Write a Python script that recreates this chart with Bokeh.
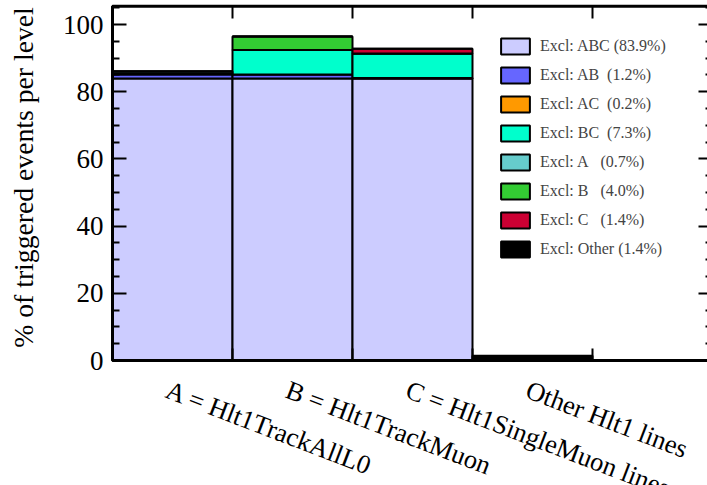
import math
from bokeh.plotting import figure
from bokeh.models import (Range1d, FixedTicker, LinearAxis, Label, Legend, LegendItem,
                          ColumnDataSource, BoxAnnotation, CustomLabelingPolicy)
from bokeh.embed import file_html
from bokeh.resources import INLINE

# ---------------- data ----------------
bin_labels = ["A = Hlt1TrackAllL0", "B = Hlt1TrackMuon", "C = Hlt1SingleMuon lines", "Other Hlt1 lines", ""]
bin_centers = [0.5, 1.5, 2.5, 3.5, 4.5]
bin_edges = [1, 2, 3, 4]

series = ["ABC", "AB", "AC", "BC", "A", "B", "C", "Other"]
ABC = [83.9, 83.9, 83.9, 0.0, 0.0]
AB = [1.2, 1.2, 0.0, 0.0, 0.0]
AC = [0.2, 0.0, 0.2, 0.0, 0.0]
BC = [0.0, 7.3, 7.3, 0.0, 0.0]
A = [0.7, 0.0, 0.0, 0.0, 0.0]
B = [0.0, 4.0, 0.0, 0.0, 0.0]
C = [0.0, 0.0, 1.4, 0.0, 0.0]
Other = [0.0, 0.0, 0.0, 1.4, 0.0]

NB = "\u00a0"
legend_labels = [
    "Excl: ABC (83.9%)",
    "Excl: AB" + NB + " (1.2%)",
    "Excl: AC" + NB + " (0.2%)",
    "Excl: BC" + NB + " (7.3%)",
    "Excl: A" + NB + NB + " (0.7%)",
    "Excl: B" + NB + NB + " (4.0%)",
    "Excl: C" + NB + NB + " (1.4%)",
    "Excl: Other (1.4%)",
]
colors = ["#ccccff", "#6666ff", "#ff9900", "#00ffcc", "#66cccc", "#33cc33", "#cc0033", "#000000"]

y_ticks = [0, 20, 40, 60, 80, 100]
y_minor = [v for v in range(0, 106, 5) if v % 20 != 0]
Y_TOP = 105.4
X_END = 5.0

y_title = "% of triggered events per level"
caption = "(a) HLT1 for B\u2070 \u2192 \u03bc\u207a\u03bc\u207b"

# ---------------- figure ----------------
FONT = "Liberation Serif"
W, H = 707, 485
LEFT_PX, BOTTOM_PX, PX_PER_BIN, PX_PER_UNIT = 112, 125, 120.0, 3.36
p = figure(width=W, height=H, output_backend="svg", toolbar_location=None,
           x_range=Range1d(-LEFT_PX / PX_PER_BIN, (W - LEFT_PX) / PX_PER_BIN),
           y_range=Range1d(-BOTTOM_PX / PX_PER_UNIT, (H - BOTTOM_PX) / PX_PER_UNIT),
           x_axis_location=None, y_axis_location=None, min_border=0)
p.grid.grid_line_color = None
p.outline_line_color = None
p.background_fill_color = "white"
p.border_fill_color = "white"

src = ColumnDataSource(dict(x=bin_centers, ABC=ABC, AB=AB, AC=AC, BC=BC, A=A, B=B, C=C, Other=Other))
renderers = p.vbar_stack(series, x="x", width=1.0, source=src, fill_color=colors,
                         line_color="black", line_width=2)

# frame
p.add_layout(BoxAnnotation(left=0, right=X_END, bottom=0, top=Y_TOP, fill_color=None,
                           line_color="black", line_width=3, line_alpha=1.0))

items = [LegendItem(label=lab, renderers=[r]) for lab, r in zip(legend_labels, renderers)]
legend = Legend(items=items, location=(497, 226), padding=0, margin=0, spacing=9,
                glyph_width=36, glyph_height=20, label_standoff=7, label_height=20,
                label_text_font=FONT, label_text_font_size="16px",
                border_line_color=None, background_fill_alpha=0)
p.add_layout(legend, "center")

no_labels = CustomLabelingPolicy(code="return new Set()")

def make_axis(ticks, minor, loc, tick_in, minor_in, labels=False):
    ax = LinearAxis(ticker=FixedTicker(ticks=ticks, minor_ticks=minor), fixed_location=loc)
    ax.axis_line_color = None
    ax.major_tick_in = tick_in
    ax.major_tick_out = 0
    ax.minor_tick_in = minor_in
    ax.minor_tick_out = 0
    ax.major_tick_line_width = 2
    ax.minor_tick_line_width = 2
    if labels:
        ax.major_label_text_font = FONT
        ax.major_label_text_font_size = "27px"
        ax.major_label_standoff = 9
        ax.major_label_text_color = "black"
    else:
        ax.major_label_policy = no_labels
    return ax

p.add_layout(make_axis(y_ticks, y_minor, 0, 14, 7, labels=True), "left")
p.add_layout(make_axis(y_ticks, y_minor, X_END, 14, 7), "right")
p.add_layout(make_axis(bin_edges, [], 0, 12, 0), "below")
p.add_layout(make_axis(bin_edges, [], Y_TOP, 12, 0), "above")

# category labels under the bins
for xc, txt in zip(bin_centers, bin_labels):
    if not txt:
        continue
    p.add_layout(Label(x=xc, y=-4.2, x_units="data", y_units="data", text=txt,
                       angle=-0.366, text_align="left", text_baseline="top",
                       text_font=FONT, text_font_size="26.5px", text_color="black"))

# y axis title
p.add_layout(Label(x=23, y=H - 177, x_units="screen", y_units="screen",
                   text=y_title, angle=math.pi / 2,
                   text_align="center", text_baseline="alphabetic",
                   text_font=FONT, text_font_size="27.7px", text_color="black"))

# caption (cut by the window bottom, as in the reference)
p.add_layout(Label(x=207, y=-20, x_units="screen", y_units="screen",
                   text=caption, text_align="left", text_baseline="alphabetic",
                   text_font=FONT, text_font_size="34px", text_color="black"))

open("out.html", "w").write(file_html(p, INLINE))
